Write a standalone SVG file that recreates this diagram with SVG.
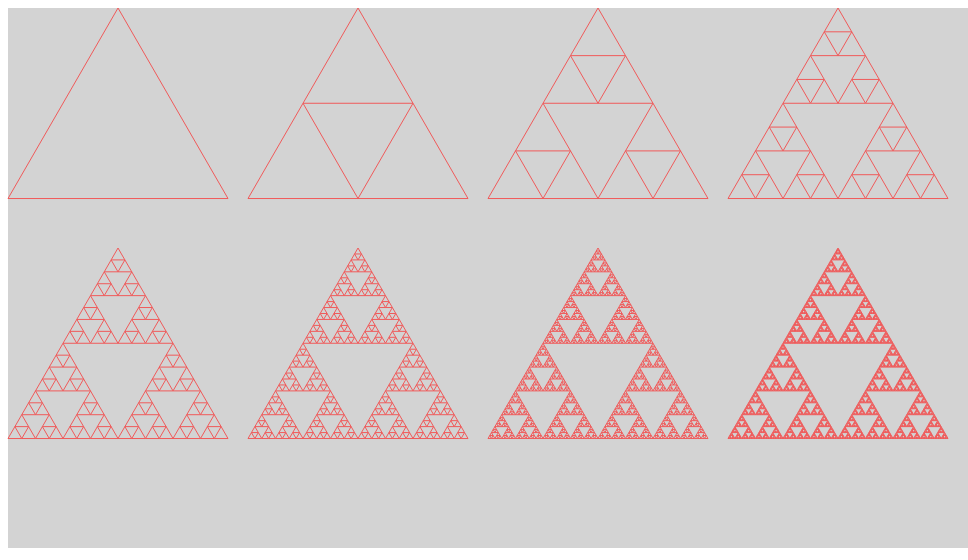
<svg xmlns="http://www.w3.org/2000/svg" xmlns:xlink="http://www.w3.org/1999/xlink" width="968" height="560" viewBox="0 0 968 560">
<style>
.tri{fill:none;stroke:#f05a5a;stroke-width:1;vector-effect:non-scaling-stroke}
</style>
<defs>
<polygon id="L0" class="tri" points="110,0 220,190.526 0,190.526"/>
<g id="L1"><use href="#L0" transform="translate(55,0) scale(0.5)"/><use href="#L0" transform="translate(0,95.263) scale(0.5)"/><use href="#L0" transform="translate(110,95.263) scale(0.5)"/></g>
<g id="L2"><use href="#L1" transform="translate(55,0) scale(0.5)"/><use href="#L1" transform="translate(0,95.263) scale(0.5)"/><use href="#L1" transform="translate(110,95.263) scale(0.5)"/></g>
<g id="L3"><use href="#L2" transform="translate(55,0) scale(0.5)"/><use href="#L2" transform="translate(0,95.263) scale(0.5)"/><use href="#L2" transform="translate(110,95.263) scale(0.5)"/></g>
<g id="L4"><use href="#L3" transform="translate(55,0) scale(0.5)"/><use href="#L3" transform="translate(0,95.263) scale(0.5)"/><use href="#L3" transform="translate(110,95.263) scale(0.5)"/></g>
<g id="L5"><use href="#L4" transform="translate(55,0) scale(0.5)"/><use href="#L4" transform="translate(0,95.263) scale(0.5)"/><use href="#L4" transform="translate(110,95.263) scale(0.5)"/></g>
<g id="L6"><use href="#L5" transform="translate(55,0) scale(0.5)"/><use href="#L5" transform="translate(0,95.263) scale(0.5)"/><use href="#L5" transform="translate(110,95.263) scale(0.5)"/></g>
<g id="L7"><use href="#L6" transform="translate(55,0) scale(0.5)"/><use href="#L6" transform="translate(0,95.263) scale(0.5)"/><use href="#L6" transform="translate(110,95.263) scale(0.5)"/></g>
</defs>
<rect x="8" y="8" width="960" height="540" fill="#d3d3d3"/>
<g id="depth0"><use href="#L0" transform="translate(8,8)"/></g>
<g id="depth1"><use href="#L1" transform="translate(248,8)"/></g>
<g id="depth2"><use href="#L2" transform="translate(488,8)"/></g>
<g id="depth3"><use href="#L3" transform="translate(728,8)"/></g>
<g id="depth4"><use href="#L4" transform="translate(8,248)"/></g>
<g id="depth5"><use href="#L5" transform="translate(248,248)"/></g>
<g id="depth6"><use href="#L6" transform="translate(488,248)"/></g>
<g id="depth7"><use href="#L7" transform="translate(728,248)"/></g>
</svg>
